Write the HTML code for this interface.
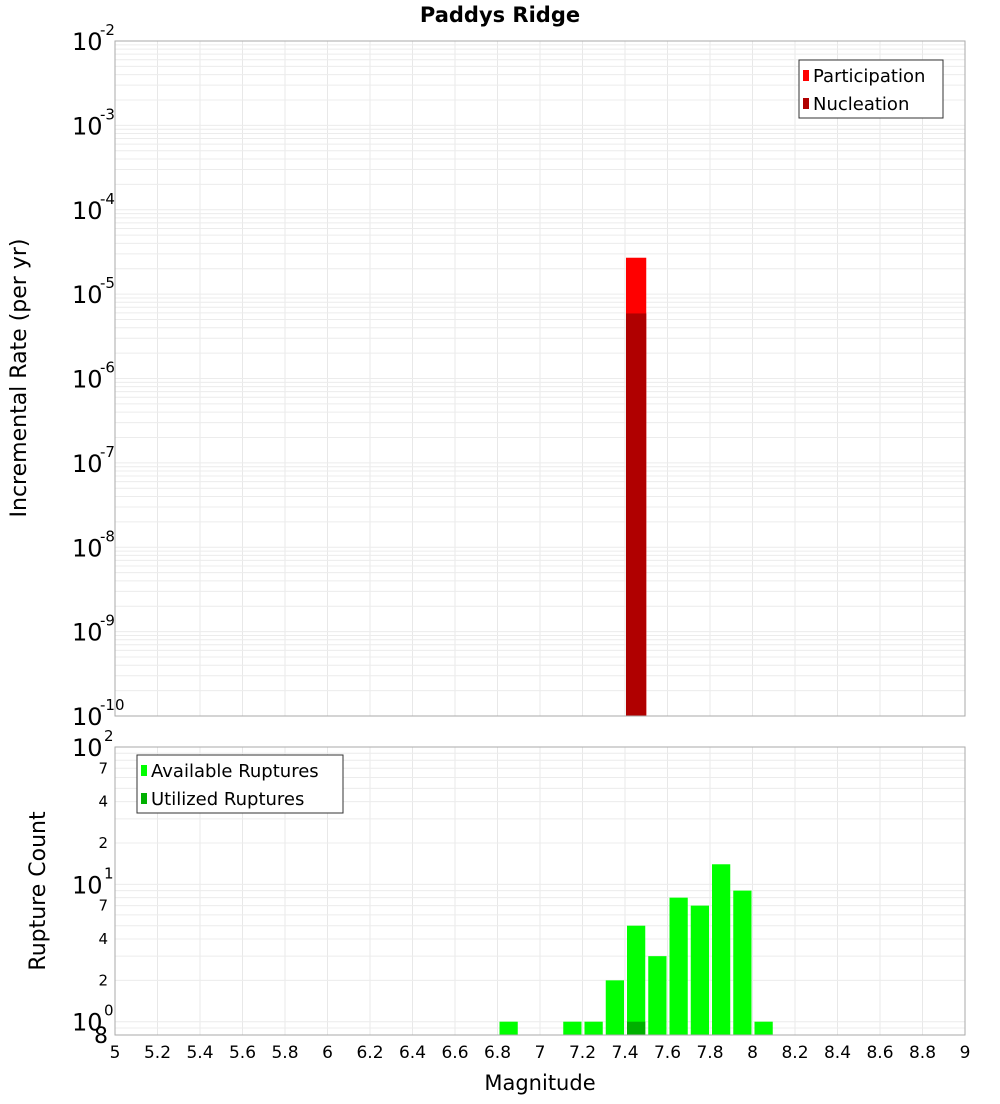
<!DOCTYPE html>
<html><head><meta charset="utf-8"><style>
body{margin:0;background:#fff;font-family:"DejaVu Sans","Liberation Sans",sans-serif}
</style></head><body>
<svg id="c" width="1000" height="1100" xmlns="http://www.w3.org/2000/svg" font-family="DejaVu Sans, Liberation Sans, sans-serif"></svg>
<script>
const topBins=[7.4];
const participation=[2.7e-5];
const nucleation=[5.9e-6];
const bottomBins=[6.8,7.1,7.2,7.3,7.4,7.5,7.6,7.7,7.8,7.9,8.0];
const available=[1,1,1,2,5,3,8,7,14,9,1];
const utilizedBins=[7.4];
const utilized=[1];
const xTicks=["5","5.2","5.4","5.6","5.8","6","6.2","6.4","6.6","6.8","7","7.2","7.4","7.6","7.8","8","8.2","8.4","8.6","8.8","9"];
const topExps=[-2,-3,-4,-5,-6,-7,-8,-9,-10];

const S=document.getElementById('c'),NS='http://www.w3.org/2000/svg';
function el(t,a,p){const e=document.createElementNS(NS,t);for(const k in a)e.setAttribute(k,a[k]);(p||S).appendChild(e);return e;}
const L=115,R=965,T1=41,B1=716,T2=747,B2=1035;
const x=v=>L+(v-5)/4*(R-L);
const y1=v=>B1-(Math.log10(v)+10)/8*(B1-T1);
const lo2=Math.log10(0.8);
const y2=v=>B2-(Math.log10(v)-lo2)/(2-lo2)*(B2-T2);
const g=el('g',{});
// x grid
xTicks.forEach(t=>{const xv=x(+t);el('line',{x1:xv,x2:xv,y1:T1,y2:B1,stroke:'#e8e8e8'},g);el('line',{x1:xv,x2:xv,y1:T2,y2:B2,stroke:'#e8e8e8'},g);});
for(let e=-10;e<-2;e++)for(let m=1;m<10;m++){const yv=y1(m*Math.pow(10,e));el('line',{x1:L,x2:R,y1:yv,y2:yv,stroke:'#ececec'},g);}
for(let e=-1;e<2;e++)for(let m=1;m<10;m++){const v=m*Math.pow(10,e);if(v<0.8)continue;const yv=y2(v);el('line',{x1:L,x2:R,y1:yv,y2:yv,stroke:'#ececec'},g);}
// top bars
topBins.forEach((b,i)=>{
 let r=el('rect',{x:x(b)+1,y:y1(participation[i]),width:x(b+0.1)-x(b)-1,height:B1-y1(participation[i]),fill:'#ff0000'});
 
 r=el('rect',{x:x(b)+1,y:y1(nucleation[i]),width:x(b+0.1)-x(b)-1,height:B1-y1(nucleation[i]),fill:'#b00000'});
 
});
bottomBins.forEach((b,i)=>{
 const r=el('rect',{x:x(b)+2,y:y2(available[i]),width:x(b+0.1)-x(b)-3,height:B2-y2(available[i]),fill:'#00ff00'});
 
});
utilizedBins.forEach((b,i)=>{
 const r=el('rect',{x:x(b)+2,y:y2(utilized[i]),width:x(b+0.1)-x(b)-3,height:B2-y2(utilized[i]),fill:'#00b000'});
 
});
el('rect',{x:L,y:T1,width:R-L,height:B1-T1,fill:'none',stroke:'#aaa'});
el('rect',{x:L,y:T2,width:R-L,height:B2-T2,fill:'none',stroke:'#aaa'});
// y labels top
topExps.forEach(e=>{const yv=y1(Math.pow(10,e));const t=el('text',{x:72,y:yv+9,'font-size':24});t.textContent='10';
 const s=el('text',{x:100,y:yv-6,'font-size':15});s.textContent=String(e);
 });
[[100,'2'],[10,'1'],[1,'0']].forEach(([v,e])=>{const yv=y2(v);const t=el('text',{x:72,y:yv+9,'font-size':24});t.textContent='10';
 const s=el('text',{x:104,y:yv-6,'font-size':15});s.textContent=e;});
[[70,'7'],[40,'4'],[20,'2'],[7,'7'],[4,'4'],[2,'2'],[0.8,'8']].forEach(([v,l])=>{const yv=y2(v);const t=el('text',{x:108,y:yv+5,'font-size':15,'text-anchor':'end'});
 if(l==='8'){t.setAttribute('font-size',22);t.setAttribute('y',yv+8);}t.textContent=l;});
xTicks.forEach(tk=>{const t=el('text',{x:x(+tk),y:1058,'font-size':17,'text-anchor':'middle'});t.textContent=tk;
 });
let t=el('text',{x:500,y:22,'font-size':21,'font-weight':'bold','text-anchor':'middle'});t.textContent='Paddys Ridge';
t=el('text',{x:540,y:1090,'font-size':21,'text-anchor':'middle'});t.textContent='Magnitude';
t=el('text',{x:0,y:0,'font-size':22,'text-anchor':'middle',transform:'translate(26,378) rotate(-90)'});t.textContent='Incremental Rate (per yr)';
t=el('text',{x:0,y:0,'font-size':22,'text-anchor':'middle',transform:'translate(45,891) rotate(-90)'});t.textContent='Rupture Count';
// legends
function legend(x0,y0,w,items,name){const lg=el('g',{});
 el('rect',{x:x0,y:y0,width:w,height:58,fill:'#fff',stroke:'#333'},lg);
 items.forEach(([c,l],i)=>{el('rect',{x:x0+4,y:y0+10+i*28,width:6,height:11,fill:c},lg);const tt=el('text',{x:x0+14,y:y0+22+i*28,'font-size':18},lg);tt.textContent=l;});}
legend(799,60,144,[['#ff0000','Participation'],['#b00000','Nucleation']],'legend-top');
legend(137,755,206,[['#00ff00','Available Ruptures'],['#00b000','Utilized Ruptures']],'legend-bottom');
</script>
</body></html>
